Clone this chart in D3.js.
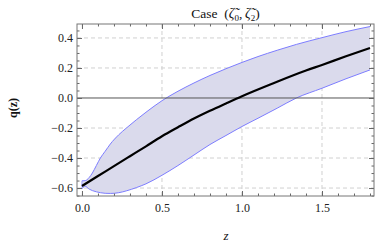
<!DOCTYPE html>
<html><head><meta charset="utf-8">
<script src="https://cdn.jsdelivr.net/npm/d3@7"></script>
<style>
html,body{margin:0;padding:0;background:#fff;}
svg{display:block;}
</style></head>
<body>
<script>
// ---- data ----
const zCenter = [0, 0.1, 0.2, 0.3, 0.4, 0.5, 0.6, 0.7, 0.8, 0.9, 1.0, 1.2, 1.4, 1.5, 1.65, 1.8];
const qCenter = [-0.586, -0.52, -0.454, -0.388, -0.322, -0.255, -0.195, -0.137, -0.085, -0.036, 0.012, 0.1, 0.183, 0.22, 0.278, 0.333];
const zBand  = [0, 0.02, 0.045, 0.065, 0.09, 0.115, 0.145, 0.177, 0.23, 0.28, 0.34, 0.4, 0.5, 0.6, 0.7, 0.8, 0.9, 1.0, 1.1, 1.22, 1.34, 1.5, 1.65, 1.8];
const qUpper = [-0.552, -0.551, -0.53, -0.5, -0.45, -0.4, -0.355, -0.307, -0.245, -0.198, -0.145, -0.095, -0.018, 0.045, 0.1, 0.15, 0.195, 0.237, 0.276, 0.318, 0.357, 0.402, 0.442, 0.476];
const qLower = [-0.605, -0.588, -0.607, -0.617, -0.625, -0.631, -0.635, -0.636, -0.631, -0.618, -0.597, -0.572, -0.515, -0.45, -0.38, -0.31, -0.25, -0.19, -0.135, -0.068, 0.0, 0.065, 0.128, 0.187];
const xTickVals = [0, 0.5, 1.0, 1.5];
const xTickLabels = ["0.0", "0.5", "1.0", "1.5"];
const yTickVals = [-0.6, -0.4, -0.2, 0.0, 0.2, 0.4];
const yTickLabels = ["\u22120.6", "\u22120.4", "\u22120.2", "0.0", "0.2", "0.4"];
const xMinor = d3.range(0, 18.5, 1).map(d => d / 10);
const yMinor = d3.range(-13, 10, 1).map(d => d / 20);
const xGrid = [0.5, 1.0, 1.5];
const yGrid = [-0.6, -0.4, -0.2, 0.2, 0.4];

const W = 382, H = 245;
const L = 77, R = 374, T = 24, B = 196;
const x = d3.scaleLinear().domain([-0.031, 1.825]).range([L, R]);
const y = d3.scaleLinear().domain([-0.653, 0.493]).range([B, T]);

const svg = d3.select("body").append("svg").attr("width", W).attr("height", H);
const serif = "'Liberation Serif','Times New Roman',serif";

const band = zBand.map((z, i) => ({z, u: qUpper[i], l: qLower[i]}));
const center = zCenter.map((z, i) => ({z, c: qCenter[i]}));

// grid
svg.append("g").selectAll("line").data(xGrid).join("line")
  .attr("x1", d => x(d)).attr("x2", d => x(d)).attr("y1", T).attr("y2", B)
  .attr("stroke", "#d0d0d0").attr("stroke-width", 1).attr("stroke-dasharray", "4,3");
svg.append("g").selectAll("line").data(yGrid).join("line")
  .attr("y1", d => y(d)).attr("y2", d => y(d)).attr("x1", L).attr("x2", R)
  .attr("stroke", "#d0d0d0").attr("stroke-width", 1).attr("stroke-dasharray", "4,3");

// band
const curve = d3.curveMonotoneX;
svg.append("path").datum(band)
  .attr("d", d3.area().x(d => x(d.z)).y0(d => y(d.l)).y1(d => y(d.u)).curve(curve))
  .attr("fill", "#dadaec");
svg.append("path").datum(band)
  .attr("d", d3.line().x(d => x(d.z)).y(d => y(d.u)).curve(curve))
  .attr("fill", "none").attr("stroke", "#7d7dff").attr("stroke-width", 1);
svg.append("path").datum(band)
  .attr("d", d3.line().x(d => x(d.z)).y(d => y(d.l)).curve(curve))
  .attr("fill", "none").attr("stroke", "#7d7dff").attr("stroke-width", 1);
svg.append("line").attr("x1", x(zBand[0])).attr("x2", x(zBand[0]))
  .attr("y1", y(qUpper[0])).attr("y2", y(qLower[0]))
  .attr("stroke", "#9a9aff").attr("stroke-width", 1);

// zero line
svg.append("line").attr("x1", L).attr("x2", R).attr("y1", y(0)).attr("y2", y(0))
  .attr("stroke", "#555").attr("stroke-width", 1);

// center line
svg.append("path").datum(center)
  .attr("d", d3.line().x(d => x(d.z)).y(d => y(d.c)).curve(d3.curveMonotoneX))
  .attr("fill", "none").attr("stroke", "#000").attr("stroke-width", 2.2);

// axes
function styleAxis(g) {
  g.select(".domain").remove();
  g.selectAll(".tick line").attr("stroke", "#666");
  g.selectAll("text").attr("font-family", serif).attr("font-size", 12).attr("fill", "#222");
}
svg.append("g").attr("transform", `translate(0,${B})`)
  .call(d3.axisBottom(x).tickValues(xMinor).tickSize(-2.5).tickFormat("")).call(styleAxis);
svg.append("g").attr("transform", `translate(0,${B})`)
  .call(d3.axisBottom(x).tickValues(xTickVals).tickSize(-5).tickPadding(4)
    .tickFormat((d, i) => xTickLabels[i])).call(styleAxis)
  .selectAll("text").attr("dy", "1.0em");
svg.append("g").attr("transform", `translate(0,${T})`)
  .call(d3.axisTop(x).tickValues(xMinor).tickSize(-2.5).tickFormat("")).call(styleAxis);
svg.append("g").attr("transform", `translate(0,${T})`)
  .call(d3.axisTop(x).tickValues(xTickVals).tickSize(-5).tickFormat("")).call(styleAxis);

svg.append("g").attr("transform", `translate(${L},0)`)
  .call(d3.axisLeft(y).tickValues(yMinor).tickSize(-2.5).tickFormat("")).call(styleAxis);
svg.append("g").attr("transform", `translate(${L},0)`)
  .call(d3.axisLeft(y).tickValues(yTickVals).tickSize(-5).tickPadding(4)
    .tickFormat((d, i) => yTickLabels[i])).call(styleAxis);
svg.append("g").attr("transform", `translate(${R},0)`)
  .call(d3.axisRight(y).tickValues(yMinor).tickSize(-2.5).tickFormat("")).call(styleAxis);
svg.append("g").attr("transform", `translate(${R},0)`)
  .call(d3.axisRight(y).tickValues(yTickVals).tickSize(-5).tickFormat("")).call(styleAxis);

// frame
svg.append("rect").attr("x", L).attr("y", T).attr("width", R - L).attr("height", B - T)
  .attr("fill", "none").attr("stroke", "#777").attr("stroke-width", 1);

// title
const title = svg.append("text").attr("x", (L + R) / 2).attr("y", 18)
  .attr("text-anchor", "middle").attr("font-family", serif).attr("font-size", 13.5).attr("fill", "#111")
  .attr("xml:space", "preserve");
title.append("tspan").text("Case\u2002(");
title.append("tspan").attr("font-style", "italic").attr("font-size", 14).text("\u03B6\u0303");
title.append("tspan").attr("font-size", 9).attr("dy", 3).text("0");
title.append("tspan").attr("dy", -3).text(",\u2009");
title.append("tspan").attr("font-style", "italic").attr("font-size", 14).text("\u03B6\u0303");
title.append("tspan").attr("font-size", 9).attr("dy", 3).text("2");
title.append("tspan").attr("dy", -3).text(")");

// axis labels
svg.append("text").attr("x", 226).attr("y", 240).attr("text-anchor", "middle")
  .attr("font-family", serif).attr("font-style", "italic").attr("font-size", 13).attr("fill", "#111").text("z");
svg.append("text").attr("transform", "translate(17,108) rotate(-90)").attr("text-anchor", "middle")
  .attr("font-family", serif).attr("font-size", 12).attr("font-weight", "bold").attr("fill", "#111").text("q(z)");
</script>
</body></html>
